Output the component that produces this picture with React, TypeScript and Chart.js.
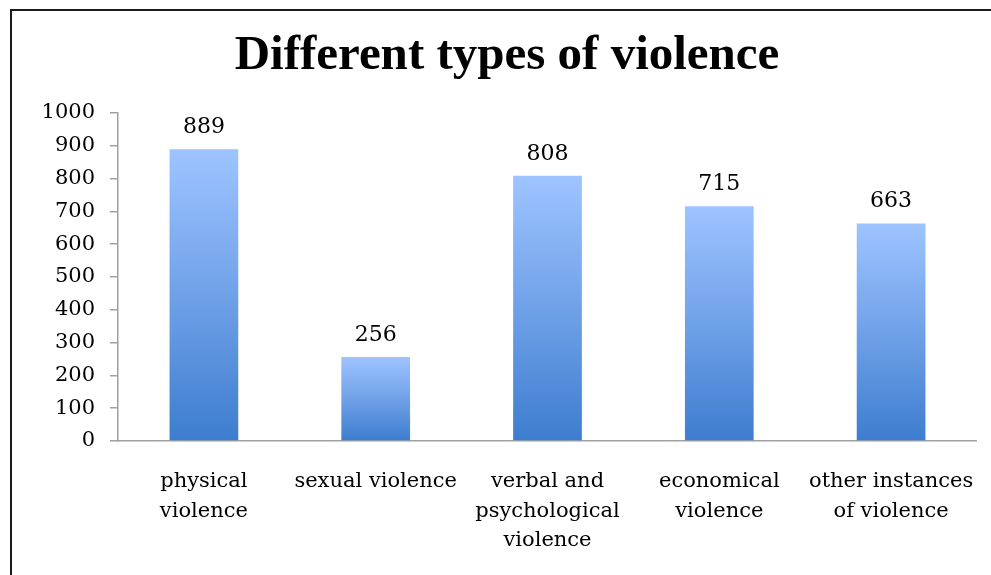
import React, { useEffect, useRef } from "react";
import { Chart, registerables } from "chart.js";

Chart.register(...registerables);

const categories: string[][] = [
  ["physical", "violence"],
  ["sexual violence"],
  ["verbal and", "psychological", "violence"],
  ["economical", "violence"],
  ["other instances", "of violence"],
];
const values: number[] = [889, 256, 808, 715, 663];
const titleText = "Different types of violence";
const yMin = 0;
const yMax = 1000;
const yStep = 100;

const SERIF = "'DejaVu Serif', serif";

const valueLabels = {
  id: "valueLabels",
  afterDatasetsDraw(chart: any) {
    const ctx = chart.ctx;
    const meta = chart.getDatasetMeta(0);
    ctx.save();
    ctx.font = `22px ${SERIF}`;
    ctx.fillStyle = "#000";
    ctx.textAlign = "center";
    ctx.textBaseline = "alphabetic";
    meta.data.forEach((el: any, i: number) => {
      ctx.fillText(String(values[i]), el.x, el.y - 16);
    });
    ctx.restore();
  },
};

export default function App() {
  const ref = useRef<HTMLCanvasElement | null>(null);
  useEffect(() => {
    if (!ref.current) return;
    const chart = new Chart(ref.current, {
      type: "bar",
      data: {
        labels: categories,
        datasets: [
          {
            data: values,
            backgroundColor: (c: any) => {
              const ch = c.chart;
              const y = ch.scales?.y;
              if (!y || c.raw === undefined) return "#6d9de3";
              const top = y.getPixelForValue(c.raw);
              const base = y.getPixelForValue(0);
              if (!isFinite(top) || !isFinite(base) || top === base) return "#6d9de3";
              const g = ch.ctx.createLinearGradient(0, top, 0, base);
              g.addColorStop(0, "#9ec4ff");
              g.addColorStop(0.5, "#70a1e8");
              g.addColorStop(1, "#3d7dcf");
              return g;
            },
            borderWidth: 0,
            categoryPercentage: 1,
            barPercentage: 0.4,
          },
        ],
      },
      options: {
        responsive: false,
        animation: false,
        layout: { padding: { left: 37, right: 0, top: 0, bottom: 0 } },
        plugins: {
          legend: { display: false },
          tooltip: { enabled: false },
          title: {
            display: true,
            text: titleText,
            color: "#000",
            font: { family: "'Liberation Serif', serif", size: 49, weight: "bold", lineHeight: 1.2 },
            padding: { top: 27, bottom: 27 },
          },
        },
        scales: {
          x: {
            grid: { display: false, drawTicks: true, tickLength: 26 },
            border: { display: true, color: "#a0a0a0", width: 1.5 },
            ticks: {
              color: "#000",
              font: { family: SERIF, size: 21, lineHeight: 1.4 },
              padding: 0,
              maxRotation: 0,
              autoSkip: false,
            },
            afterFit: (s: any) => {
              s.height = 105;
            },
          },
          y: {
            min: yMin,
            max: yMax,
            ticks: {
              stepSize: yStep,
              color: "#000",
              font: { family: SERIF, size: 21 },
              padding: 15,
              callback: (v: any) => String(v),
            },
            grid: {
              drawOnChartArea: false,
              drawTicks: true,
              tickLength: 8,
              color: "#a0a0a0",
              lineWidth: 1.5,
            },
            border: { display: true, color: "#a0a0a0", width: 1.5 },
            afterFit: (s: any) => {
              s.width = 81;
            },
          },
        },
      },
      plugins: [valueLabels],
    });
    return () => chart.destroy();
  }, []);

  return (
    <div
      style={{
        position: "absolute",
        left: 0,
        top: 0,
        width: 991,
        height: 575,
        overflow: "hidden",
        background: "#fff",
      }}
    >
      <div
        style={{
          position: "absolute",
          left: 10,
          top: 9,
          width: 1000,
          height: 600,
          borderTop: "2px solid #1a1a1a",
          borderLeft: "2px solid #1a1a1a",
        }}
      />
      <canvas
        ref={ref}
        width={977}
        height={546}
        style={{ position: "absolute", left: 0, top: 0, width: 977, height: 546 }}
      />
    </div>
  );
}
